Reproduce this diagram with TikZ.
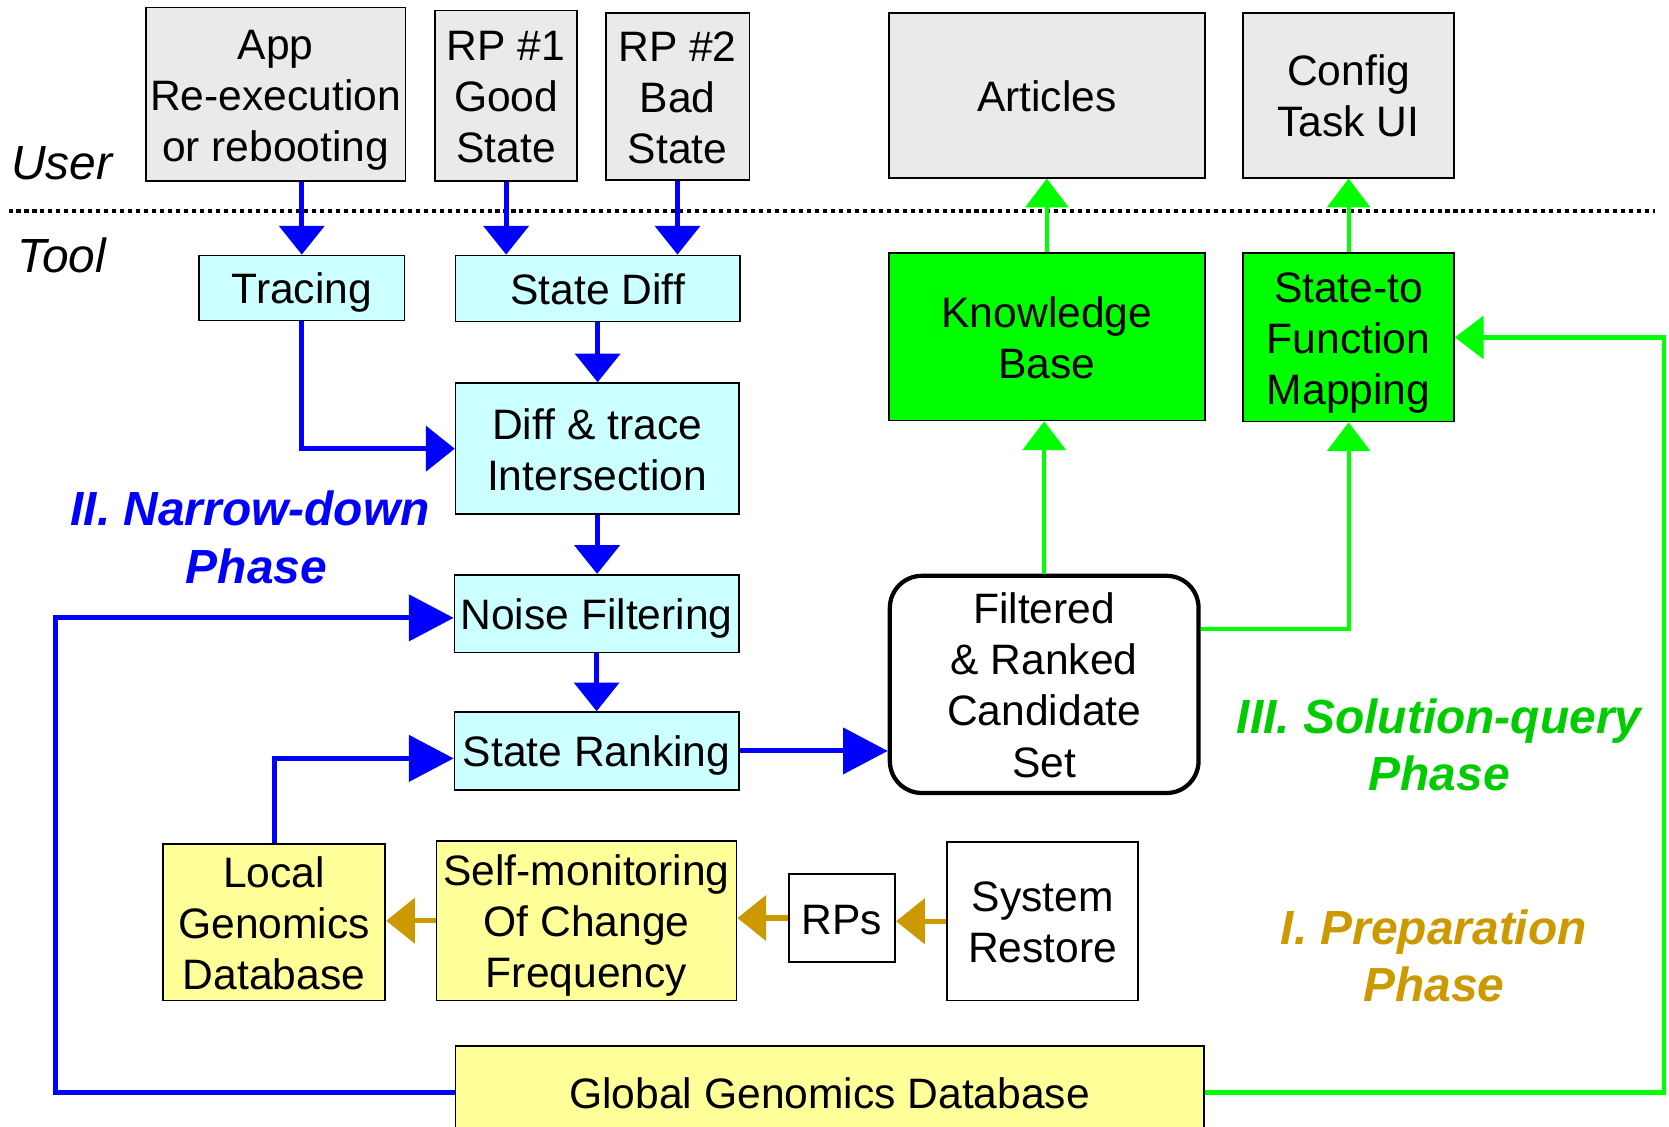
\documentclass[tikz,border=0pt]{standalone}
\usepackage{fontspec}
\setmainfont{Liberation Sans}
\usetikzlibrary{arrows.meta,calc}

\definecolor{usergray}{HTML}{EAEAEA}
\definecolor{toolcyan}{HTML}{CCFFFF}
\definecolor{solgreen}{HTML}{00FF00}
\definecolor{prepyellow}{HTML}{FFFF99}
\definecolor{flowblue}{HTML}{0000FF}
\definecolor{prepgold}{HTML}{CC9900}
\definecolor{soltext}{HTML}{00CC00}

% line strut: fixed ascent/descent so every box centres its lines alike
\newcommand\linestrut{\rule[-4.5pt]{0pt}{24pt}}

\tikzset{
  base/.style={draw=black, line width=0.8pt, inner sep=0pt, align=center,
    font=\fontsize{20}{24}\selectfont,
    execute at end node=\linestrut},
  userbox/.style={base, fill=usergray},
  toolbox/.style={base, fill=toolcyan},
  solbox/.style={base, fill=solgreen},
  prepbox/.style={base, fill=prepyellow},
  plainbox/.style={base, fill=white},
  candbox/.style={base, fill=white, line width=2pt, rounded corners=15pt},
  barrow/.style={draw=flowblue, line width=2.3pt,
    -{Triangle[length=13.5pt,width=21pt]}},
  bigbarrow/.style={draw=flowblue, line width=2.3pt,
    -{Triangle[length=21pt,width=21.5pt]}},
  garrow/.style={draw=solgreen, line width=2pt,
    -{Triangle[length=13.5pt,width=20pt]}},
  yarrow/.style={draw=prepgold, line width=2.5pt,
    -{Triangle[length=13.5pt,width=21pt]}},
  sepline/.style={draw=black, line width=1.9pt, dash pattern=on 1.9pt off 1.85pt},
  rolelabel/.style={font=\fontsize{22.5}{27}\selectfont\itshape},
  phaselabel/.style={font=\fontsize{22.5}{27}\selectfont\bfseries\itshape, align=center},
}

\begin{document}
\begin{tikzpicture}[x=0.5pt,y=-0.5pt]
\useasboundingbox (0,0) rectangle (1568,1058);

% user / tool separator
\coordinate (dl) at (8,198);
\coordinate (dr) at (1555,198);
\draw[sepline] (dl) -- (dr);
\node[rolelabel] (user) at (58,153) {User};
\node[rolelabel] (tool) at (58,240) {Tool};

% user side
\node[userbox, minimum width=122pt, minimum height=81.5pt] (app) at (259,88.5) {\linestrut App\\Re-execution\\or rebooting};
\node[userbox, minimum width=66.5pt, minimum height=80pt] (rp1) at (475.5,90) {\linestrut RP \#1\\Good\\State};
\node[userbox, minimum width=67.5pt, minimum height=78.5pt] (rp2) at (636.5,90.5) {\linestrut RP \#2\\Bad\\State};
\node[userbox, minimum width=148.5pt, minimum height=77.5pt] (art) at (983.5,89.5) {Articles};
\node[userbox, minimum width=99pt, minimum height=77.5pt] (cfg) at (1267,89.5) {\linestrut Config\\Task UI};

% narrow-down phase
\node[toolbox, minimum width=96.5pt, minimum height=30.5pt] (trc) at (283.5,270.5) {Tracing};
\node[toolbox, minimum width=133.5pt, minimum height=31pt] (sdf) at (561.5,271) {State Diff};
\node[toolbox, minimum width=133pt, minimum height=61.5pt] (dti) at (561,421.5) {\linestrut Diff \& trace\\Intersection};
\node[toolbox, minimum width=133.5pt, minimum height=36.5pt] (nsf) at (560.5,576.5) {Noise Filtering};
\node[toolbox, minimum width=133.5pt, minimum height=36.5pt] (srk) at (560.5,705.5) {State Ranking};

% solution-query phase
\node[solbox, minimum width=148.5pt, minimum height=78.5pt] (kb) at (983.5,316.5) {\linestrut Knowledge\\Base};
\node[solbox, minimum width=99pt, minimum height=79pt] (sfm) at (1267,317) {\linestrut State-to\\Function\\Mapping};
\node[candbox, minimum width=145pt, minimum height=102pt] (frc) at (981,643) {\linestrut Filtered\\\& Ranked\\Candidate\\Set};

% preparation phase
\node[prepbox, minimum width=104.5pt, minimum height=73.5pt] (lgd) at (257.5,866.5) {\linestrut Local\\Genomics\\Database};
\node[prepbox, minimum width=141pt, minimum height=75pt] (smc) at (551,865) {\linestrut Self-monitoring\\Of Change\\Frequency};
\node[plainbox, minimum width=50pt, minimum height=41.5pt] (rps) at (791,862.5) {RPs};
\node[plainbox, minimum width=89.5pt, minimum height=74.5pt] (sys) at (979.5,865.5) {\linestrut System\\Restore};
\node[prepbox, minimum width=351.5pt, minimum height=43.5pt] (glob) at (779.5,1026.5) {Global Genomics Database};

% phase titles
\node[phaselabel, text=flowblue] (p2) at (235,505) {II. Narrow-down\\\hspace*{6pt}Phase};
\node[phaselabel, text=soltext] (p3) at (1352,700) {III. Solution-query\\Phase};
\node[phaselabel, text=prepgold] (p1) at (1347,898) {I. Preparation\\Phase};

% routing columns
\coordinate (lx) at (52,0);
\coordinate (rx) at (1563,0);
\coordinate (nsfin) at ([yshift=-2pt]nsf.west);
\coordinate (srkin) at ([yshift=-3.5pt]srk.west);
\coordinate (frcout) at ([yshift=26pt]frc.east);

% blue flow
\draw[barrow] (app.south -| trc.north) -- (trc.north);
\draw[barrow] (rp1.south) -- (rp1.south |- sdf.north);
\draw[barrow] (rp2.south) -- (rp2.south |- sdf.north);
\draw[barrow] (sdf.south) -- (sdf.south |- dti.north);
\draw[barrow] (trc.south) |- (dti.west);
\draw[barrow] (dti.south) -- (dti.south |- nsf.north);
\draw[barrow] (nsf.south) -- (nsf.south |- srk.north);
\draw[bigbarrow] (glob.west) -- (glob.west -| lx) -- (lx |- nsfin) -- (nsfin);
\draw[bigbarrow] (lgd.north) |- (srkin);
\draw[bigbarrow] (srk.east) -- (srk.east -| frc.west);

% green flow
\draw[garrow] (frc.north) -- (frc.north |- kb.south);
\draw[garrow] (frcout) -| (sfm.south);
\draw[garrow] (kb.north) -- (kb.north |- art.south);
\draw[garrow] (sfm.north) -- (sfm.north |- cfg.south);
\draw[garrow] (glob.east) -- (glob.east -| rx) -- (rx |- sfm.east) -- (sfm.east);

% gold flow
\draw[yarrow] (smc.west) -- (smc.west -| lgd.east);
\draw[yarrow] (rps.west) -- (rps.west -| smc.east);
\draw[yarrow] (sys.west) -- (sys.west -| rps.east);
\end{tikzpicture}
\end{document}
